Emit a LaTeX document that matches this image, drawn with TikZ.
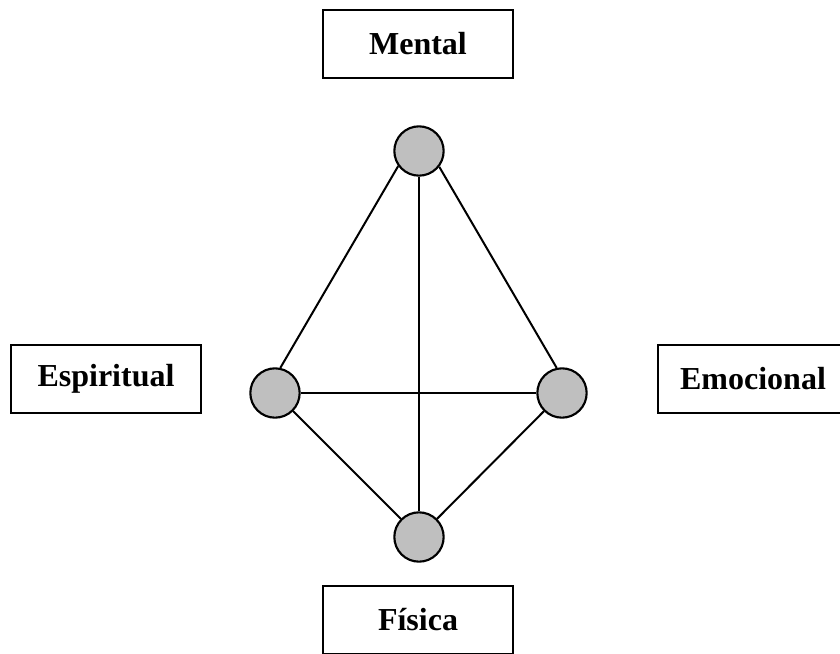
\documentclass[tikz,border=0pt]{standalone}
\usepackage{fontspec}
\setmainfont{Liberation Serif}
\usepackage{tikz}
\usetikzlibrary{shapes}

\begin{document}
\begin{tikzpicture}[x=0.75pt,y=-0.75pt]
  \tikzstyle{dim}=[circle,draw=black,line width=1.6pt,fill=black!25,
  		  minimum size=37pt,inner sep=0pt]
  \tikzstyle{aspect}=[rectangle,draw=black,line width=1.5pt,fill=white,
  		     minimum width=143pt,minimum height=51pt,
  		     font=\fontsize{24}{28}\selectfont\bfseries]
  \tikzstyle{link}=[line width=1.5pt]
  \useasboundingbox (0,0) rectangle (840,654);
  \node [aspect] (mental)     at (418,44)  {Mental};
  \node [aspect] (espiritual) at (106,379) {Espiritual};
  \node [aspect] (emocional)  at (753,379) {Emocional};
  \node [aspect] (fisica)     at (418,620) {Física};
  \node [dim] (mente)    at (419,151) {};
  \node [dim] (espiritu) at (275,393) {};
  \node [dim] (emocion)  at (562,393) {};
  \node [dim] (cuerpo)   at (419,537) {};
  \draw [link] (espiritu.78) -- (mente.-144);
  \draw [link] (emocion.102) -- (mente.-38);
  \draw [link] (mente) -- (cuerpo);
  \draw [link] (espiritu) -- (emocion);
  \draw [link] (espiritu) -- (cuerpo);
  \draw [link] (emocion) -- (cuerpo);
\end{tikzpicture}
\end{document}
